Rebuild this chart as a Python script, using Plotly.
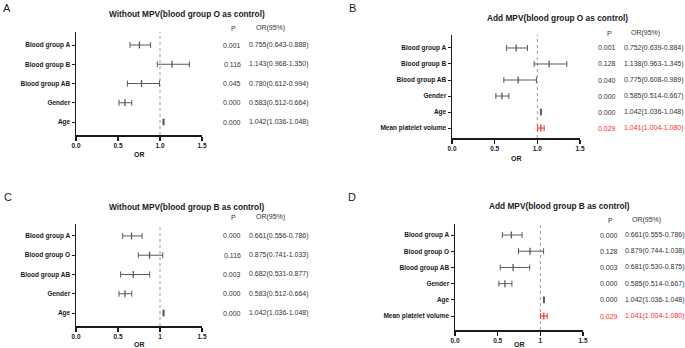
import plotly.graph_objects as go

W, H = 685, 348

# ---------------- data ----------------
cats_A = ["Blood group A", "Blood group B", "Blood group AB", "Gender", "Age"]
p_A = [0.001, 0.116, 0.045, 0.000, 0.000]
or_A = [0.755, 1.143, 0.780, 0.583, 1.042]
lo_A = [0.643, 0.968, 0.612, 0.512, 1.036]
hi_A = [0.888, 1.350, 0.994, 0.664, 1.048]

cats_B = ["Blood group A", "Blood group B", "Blood group AB", "Gender", "Age", "Mean platelet volume"]
p_B = [0.001, 0.128, 0.040, 0.000, 0.000, 0.029]
or_B = [0.752, 1.138, 0.775, 0.585, 1.042, 1.041]
lo_B = [0.639, 0.963, 0.608, 0.514, 1.036, 1.004]
hi_B = [0.884, 1.345, 0.989, 0.667, 1.048, 1.080]

cats_C = ["Blood group A", "Blood group O", "Blood group AB", "Gender", "Age"]
p_C = [0.000, 0.116, 0.003, 0.000, 0.000]
or_C = [0.661, 0.875, 0.682, 0.583, 1.042]
lo_C = [0.556, 0.741, 0.531, 0.512, 1.036]
hi_C = [0.786, 1.033, 0.877, 0.664, 1.048]

cats_D = ["Blood group A", "Blood group O", "Blood group AB", "Gender", "Age", "Mean platelet volume"]
p_D = [0.000, 0.128, 0.003, 0.000, 0.000, 0.029]
or_D = [0.661, 0.879, 0.681, 0.585, 1.042, 1.041]
lo_D = [0.555, 0.744, 0.530, 0.514, 1.036, 1.004]
hi_D = [0.786, 1.038, 0.875, 0.667, 1.048, 1.080]

titles = ["Without MPV(blood group O as control)", "Add MPV(blood group O as control)",
          "Without MPV(blood group B as control)", "Add MPV(blood group B as control)"]
letters = ["A", "B", "C", "D"]
xtick_vals = [0, 0.5, 1.0, 1.5]
xtick_text_AB = ["0.0", "0.5", "1.0", "1.5"]
xtick_text_CD = ["0.0", "0.5", "1", "1.5"]

FONT = "Arial, Liberation Sans, sans-serif"
DARK = "#1a1a1a"
BAR = "#5a5a5a"
RED = "#ff2a2a"

def px_x(p):
    return p / W

def px_y(p):
    return 1 - p / H

panels = [
    dict(cats=cats_A, p=p_A, orv=or_A, lo=lo_A, hi=hi_A, xd=(76, 202), yd=(135, 32),
         yr=[4.675, -0.675], xt=xtick_text_AB, title_xy=(187, 14), letter_xy=(7, 8),
         pcol=232, orcol=247, head_y=28, headP=233, headOR=254, or_title_y=154),
    dict(cats=cats_B, p=p_B, orv=or_B, lo=lo_B, hi=hi_B, xd=(452, 580), yd=(138, 35),
         yr=[5.62, -0.81], xt=xtick_text_AB, title_xy=(557, 18), letter_xy=(352, 8),
         pcol=607, orcol=622, head_y=33, headP=609, headOR=629, or_title_y=158),
    dict(cats=cats_C, p=p_C, orv=or_C, lo=lo_C, hi=hi_C, xd=(76, 202), yd=(326, 224),
         yr=[4.675, -0.62], xt=xtick_text_CD, title_xy=(187, 207), letter_xy=(8, 197),
         pcol=232, orcol=247, head_y=217, headP=233, headOR=254, or_title_y=344),
    dict(cats=cats_D, p=p_D, orv=or_D, lo=lo_D, hi=hi_D, xd=(455, 583), yd=(330, 224),
         yr=[5.86, -0.68], xt=xtick_text_CD, title_xy=(559, 206), letter_xy=(352, 197),
         pcol=609, orcol=623, head_y=220, headP=610, headOR=630, or_title_y=344),
]

fig = go.Figure()
annotations = []
shapes = []
layout_axes = {}

for i, pn in enumerate(panels):
    k = "" if i == 0 else str(i + 1)
    xa, ya = "x" + k, "y" + k
    n = len(pn["cats"])
    ys = list(range(n))
    colors = [RED if c == "Mean platelet volume" else BAR for c in pn["cats"]]
    for j in range(n):
        fig.add_trace(go.Scatter(
            x=[pn["orv"][j]], y=[ys[j]], xaxis=xa, yaxis=ya, mode="markers",
            marker=dict(symbol="line-ns-open", size=5, color=colors[j],
                        line=dict(width=1.3, color=colors[j])),
            error_x=dict(type="data", symmetric=False,
                         array=[pn["hi"][j] - pn["orv"][j]],
                         arrayminus=[pn["orv"][j] - pn["lo"][j]],
                         color=colors[j], thickness=1, width=3),
            showlegend=False, cliponaxis=False, hoverinfo="skip"))

    layout_axes["xaxis" + k] = dict(
        domain=[px_x(pn["xd"][0]), px_x(pn["xd"][1])], anchor=ya, range=[0, 1.5],
        tickvals=xtick_vals, ticktext=["<b>%s</b>" % t for t in pn["xt"]],
        showline=True, linecolor=DARK, linewidth=1.5, ticks="outside", ticklen=4,
        tickwidth=1.2, tickcolor=DARK, showgrid=False, zeroline=False, automargin=False,
        tickfont=dict(size=6.5, color=DARK, family=FONT))
    layout_axes["yaxis" + k] = dict(
        domain=[px_y(pn["yd"][0]), px_y(pn["yd"][1])], anchor=xa, range=pn["yr"],
        tickvals=ys, ticktext=["<b>%s</b>" % c for c in pn["cats"]],
        showline=True, linecolor=DARK, linewidth=1.5, ticks="outside", ticklen=3,
        tickwidth=1, tickcolor=DARK, showgrid=False, zeroline=False, automargin=False,
        tickfont=dict(size=6.5, color=DARK, family=FONT))

    shapes.append(dict(type="line", xref=xa, yref=ya + " domain", x0=1, x1=1, y0=0, y1=1,
                       line=dict(color="#9a9a9a", width=1, dash="dot"), layer="below"))

    annotations.append(dict(text="<b>%s</b>" % titles[i], xref="paper", yref="paper",
                            x=px_x(pn["title_xy"][0]), y=px_y(pn["title_xy"][1]),
                            xanchor="center", yanchor="middle", showarrow=False,
                            font=dict(size=8.3, color=DARK, family=FONT)))
    annotations.append(dict(text=letters[i], xref="paper", yref="paper",
                            x=px_x(pn["letter_xy"][0]), y=px_y(pn["letter_xy"][1]),
                            xanchor="center", yanchor="middle", showarrow=False,
                            font=dict(size=11, color=DARK, family=FONT)))
    annotations.append(dict(text="<b>OR</b>", xref="paper", yref="paper",
                            x=px_x((pn["xd"][0] + pn["xd"][1]) / 2), y=px_y(pn["or_title_y"]),
                            xanchor="center", yanchor="middle", showarrow=False,
                            font=dict(size=7, color=DARK, family=FONT)))
    annotations.append(dict(text="P", xref="paper", yref="paper",
                            x=px_x(pn["headP"]), y=px_y(pn["head_y"]),
                            xanchor="center", yanchor="middle", showarrow=False,
                            font=dict(size=7, color="#333333", family=FONT)))
    annotations.append(dict(text="OR(95%)", xref="paper", yref="paper",
                            x=px_x(pn["headOR"]), y=px_y(pn["head_y"]),
                            xanchor="left", yanchor="middle", showarrow=False,
                            font=dict(size=7, color="#333333", family=FONT)))
    for j in range(n):
        col = RED if pn["cats"][j] == "Mean platelet volume" else "#333333"
        annotations.append(dict(text="%.3f" % pn["p"][j], xref="paper", yref=ya,
                                x=px_x(pn["pcol"]), y=ys[j], xanchor="center", yanchor="middle",
                                showarrow=False, font=dict(size=7, color=col, family=FONT)))
        annotations.append(dict(text="%.3f(%.3f-%.3f)" % (pn["orv"][j], pn["lo"][j], pn["hi"][j]),
                                xref="paper", yref=ya, x=px_x(pn["orcol"]), y=ys[j],
                                xanchor="left", yanchor="middle", showarrow=False,
                                font=dict(size=7, color=col, family=FONT)))

fig.update_layout(
    template="none",
    width=W, height=H, margin=dict(l=0, r=0, t=0, b=0, autoexpand=False),
    paper_bgcolor="white", plot_bgcolor="white",
    font=dict(family=FONT, color=DARK),
    annotations=annotations, shapes=shapes, **layout_axes)

fig.write_html("out.html", config={"displayModeBar": False, "staticPlot": True},
               post_script="document.body.style.margin='0px';document.body.style.padding='0px';document.body.style.overflow='hidden';")
